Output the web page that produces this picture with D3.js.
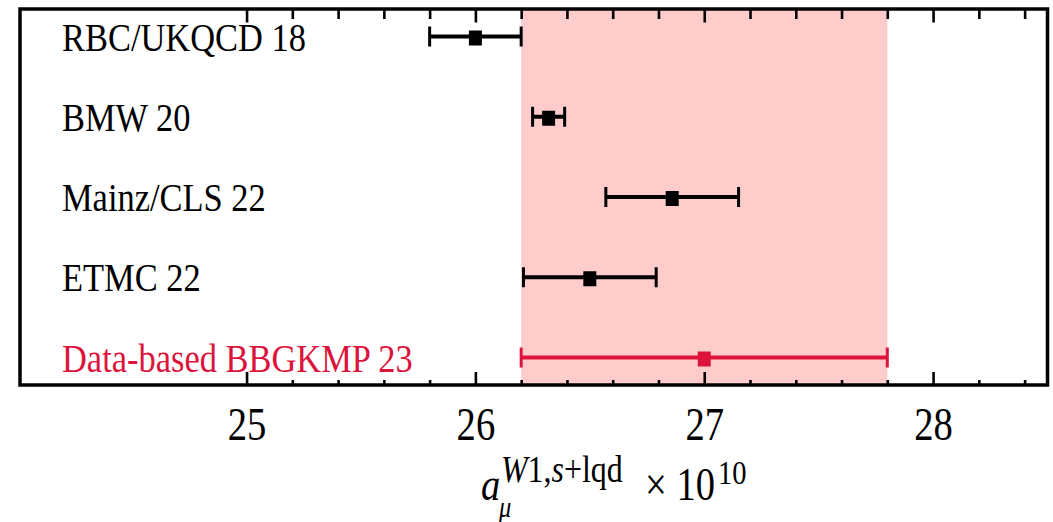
<!DOCTYPE html>
<html>
<head>
<meta charset="utf-8">
<script src="https://cdn.jsdelivr.net/npm/d3@7"></script>
<style>
  html, body { margin: 0; padding: 0; background: #ffffff; }
  svg { display: block; }
  text { font-family: "Liberation Serif", "DejaVu Serif", serif; }
</style>
</head>
<body>
<svg id="chart" width="1053" height="522"></svg>
<script>
// Window contribution a_mu^{W1, s+lqd} (units of 1e-10) from several determinations
const labels = ["RBC/UKQCD 18", "BMW 20", "Mainz/CLS 22", "ETMC 22", "Data-based BBGKMP 23"];
const centralValues = [26.00, 26.32, 26.86, 26.50, 27.00];
const errors = [0.20, 0.07, 0.29, 0.29, 0.80];
const highlighted = [false, false, false, false, true];
const bandRange = [26.2, 27.8];
const majorTicks = [25, 26, 27, 28];
const minorTicks = [25.2, 25.4, 25.6, 25.8, 26.2, 26.4, 26.6, 26.8,
                    27.2, 27.4, 27.6, 27.8, 28.2, 28.4];

const rows = labels.map((label, i) => ({
  label, value: centralValues[i], err: errors[i], hl: highlighted[i]
}));

const frame = { left: 20, right: 1047.5, top: 9, bottom: 385 };
const squash = 0.84;            // horizontal compression of the serif glyphs
const black = "#000000";
const red = "#dc143c";
const bandFill = "#ffcccc";

const svg = d3.select("#chart");

const x = d3.scaleLinear().domain([24.01, 28.5]).range([frame.left, frame.right]);
const y = d3.scalePoint().domain(labels).range([36.5, 357.5]);

// shaded band of the data-based result
svg.append("rect")
  .attr("x", x(bandRange[0]))
  .attr("y", frame.top)
  .attr("width", x(bandRange[1]) - x(bandRange[0]))
  .attr("height", frame.bottom - frame.top)
  .attr("fill", bandFill);

// error bars
const capHalf = 10;
const bars = svg.append("g").selectAll("g")
  .data(rows).join("g")
  .attr("stroke", d => d.hl ? red : black)
  .attr("fill", d => d.hl ? red : black);

bars.append("line")
  .attr("x1", d => x(d.value - d.err)).attr("x2", d => x(d.value + d.err))
  .attr("y1", d => y(d.label)).attr("y2", d => y(d.label))
  .attr("stroke-width", 4);

bars.selectAll("line.cap")
  .data(d => [d.value - d.err, d.value + d.err].map(v => ({ v, label: d.label })))
  .join("line").attr("class", "cap")
  .attr("x1", c => x(c.v)).attr("x2", c => x(c.v))
  .attr("y1", c => y(c.label) - capHalf).attr("y2", c => y(c.label) + capHalf)
  .attr("stroke-width", 3);

bars.append("rect")
  .attr("x", d => x(d.value) - 6.5)
  .attr("y", d => y(d.label) - 6)
  .attr("width", 13)
  .attr("height", 15)
  .attr("stroke", "none");

// row labels
svg.append("g").selectAll("text")
  .data(rows).join("text")
  .attr("transform", d => `translate(62,${y(d.label) + 14}) scale(${squash},1)`)
  .attr("font-size", 41)
  .attr("fill", d => d.hl ? red : black)
  .text(d => d.label);

// frame
svg.append("rect")
  .attr("x", frame.left).attr("y", frame.top)
  .attr("width", frame.right - frame.left)
  .attr("height", frame.bottom - frame.top)
  .attr("fill", "none")
  .attr("stroke", black)
  .attr("stroke-width", 3.5);

// inward ticks on bottom and top edges
function styleAxis(g) {
  g.select(".domain").remove();
  g.selectAll(".tick line").attr("stroke", black).attr("stroke-width", 2.6);
}

const bottomMajor = svg.append("g")
  .attr("transform", `translate(0,${frame.bottom})`)
  .call(d3.axisBottom(x).tickValues(majorTicks).tickSize(-13).tickFormat(d3.format("d")))
  .call(styleAxis);

bottomMajor.selectAll(".tick text")
  .attr("y", null).attr("dy", null)
  .attr("transform", `translate(0,55) scale(${squash},1)`)
  .attr("font-family", "Liberation Serif, DejaVu Serif, serif")
  .attr("font-size", 46)
  .attr("fill", black);

svg.append("g")
  .attr("transform", `translate(0,${frame.bottom})`)
  .call(d3.axisBottom(x).tickValues(minorTicks).tickSize(-5).tickFormat(""))
  .call(styleAxis);

svg.append("g")
  .attr("transform", `translate(0,${frame.top})`)
  .call(d3.axisTop(x).tickValues(majorTicks).tickSize(-13.5).tickFormat(""))
  .call(styleAxis);

svg.append("g")
  .attr("transform", `translate(0,${frame.top})`)
  .call(d3.axisTop(x).tickValues(minorTicks).tickSize(-10).tickFormat(""))
  .call(styleAxis);

// axis title: a_mu^{W1,s+lqd} x 10^10 as one squashed text with placed pieces
const title = svg.append("text")
  .attr("transform", `scale(${squash},1)`)
  .attr("fill", black).attr("font-size", 46);
const px = v => v / squash;

title.append("tspan")
  .attr("x", px(481)).attr("y", 500)
  .attr("font-style", "italic")
  .text("a");

title.append("tspan")
  .attr("x", px(499)).attr("y", 517)
  .attr("font-size", 29).attr("font-style", "italic")
  .text("μ");

const supParts = [["W", "italic"], ["1,", "normal"], ["s", "italic"], ["+", "normal"], ["lqd", "normal"]];
supParts.forEach(([t, st], i) => {
  const ts = title.append("tspan")
    .attr("font-size", 38).attr("font-style", st)
    .text(t);
  if (i === 0) ts.attr("x", px(501)).attr("y", 482);
});

title.append("tspan")
  .attr("x", px(645)).attr("y", 500)
  .text("× 10");

title.append("tspan")
  .attr("x", px(718)).attr("y", 484)
  .attr("font-size", 34)
  .text("10");
</script>
</body>
</html>
